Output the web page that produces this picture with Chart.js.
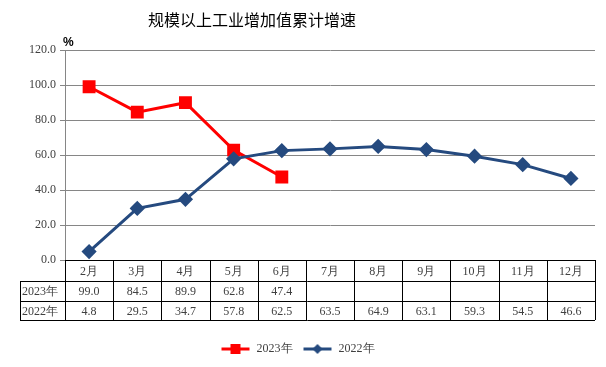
<!DOCTYPE html>
<html>
<head>
<meta charset="utf-8">
<script src="https://cdn.jsdelivr.net/npm/chart.js@4.4.1/dist/chart.umd.min.js"></script>
<style>
  html, body { margin: 0; padding: 0; background: #fff; }
  #wrap { width: 606px; height: 367px; }
</style>
</head>
<body>
<div id="wrap"><canvas id="growthChart"></canvas></div>
<script>
// Data
const months = ["2月", "3月", "4月", "5月", "6月", "7月", "8月", "9月", "10月", "11月", "12月"];
const series2023 = [99.0, 84.5, 89.9, 62.8, 47.4, null, null, null, null, null, null];
const series2022 = [4.8, 29.5, 34.7, 57.8, 62.5, 63.5, 64.9, 63.1, 59.3, 54.5, 46.6];
const seriesNames = ["2023年", "2022年"];
const yTicks = [0, 20, 40, 60, 80, 100, 120];
const chartTitle = "规模以上工业增加值累计增速";

const RED = "#ff0000";
const BLUE = "#254a7f";
const SERIF = "'Liberation Serif', 'DejaVu Serif', serif";
const CJK = "'Noto Sans CJK SC', sans-serif";

// legend swatch: line with marker in the middle
function swatch(color, shape) {
  const c = document.createElement("canvas");
  c.width = 30;
  c.height = 12;
  const g = c.getContext("2d");
  g.strokeStyle = color;
  g.lineWidth = 3;
  g.beginPath();
  g.moveTo(1, 6);
  g.lineTo(29, 6);
  g.stroke();
  g.fillStyle = color;
  if (shape === "rect") {
    g.fillRect(10, 1, 10, 10);
  } else {
    g.beginPath();
    g.moveTo(15, 1);
    g.lineTo(20, 6);
    g.lineTo(15, 11);
    g.lineTo(10, 6);
    g.closePath();
    g.fill();
  }
  return c;
}

const tablePlugin = {
  id: "dataTable",
  afterDraw(chart) {
    const ctx = chart.ctx;
    const area = chart.chartArea;
    const x = chart.scales.x;
    const colW = (area.right - area.left) / months.length;
    const top = area.bottom;
    const rows = [top, top + 21, top + 41, top + 60];
    const tableLeft = 20;

    ctx.save();
    // title (sits left of centre in the original)
    ctx.fillStyle = "#000";
    ctx.font = "16px " + CJK;
    ctx.textAlign = "center";
    ctx.textBaseline = "middle";
    ctx.fillText(chartTitle, 252, 20);

    ctx.strokeStyle = "#000";
    ctx.lineWidth = 1;
    ctx.beginPath();
    // horizontal lines
    ctx.moveTo(area.left, rows[0] + 0.5);
    ctx.lineTo(area.right, rows[0] + 0.5);
    for (let r = 1; r < rows.length; r++) {
      ctx.moveTo(tableLeft, rows[r] + 0.5);
      ctx.lineTo(area.right, rows[r] + 0.5);
    }
    // vertical lines
    ctx.moveTo(tableLeft + 0.5, rows[1]);
    ctx.lineTo(tableLeft + 0.5, rows[3]);
    for (let i = 0; i <= months.length; i++) {
      const px = Math.round(area.left + i * colW) + 0.5;
      ctx.moveTo(px, rows[0]);
      ctx.lineTo(px, rows[3]);
    }
    ctx.stroke();

    ctx.fillStyle = "#404040";
    ctx.textAlign = "center";
    ctx.font = "12px " + SERIF;
    months.forEach((m, i) => {
      const cx = x.getPixelForValue(i);
      ctx.fillText(m, cx, (rows[0] + rows[1]) / 2 + 1);
      if (series2023[i] !== null) {
        ctx.fillText(series2023[i].toFixed(1), cx, (rows[1] + rows[2]) / 2 + 1);
      }
      ctx.fillText(series2022[i].toFixed(1), cx, (rows[2] + rows[3]) / 2 + 1);
    });
    ctx.textAlign = "left";
    ctx.fillText(seriesNames[0], tableLeft + 2, (rows[1] + rows[2]) / 2 + 1);
    ctx.fillText(seriesNames[1], tableLeft + 2, (rows[2] + rows[3]) / 2 + 1);

    // unit label
    ctx.fillStyle = "#000";
    ctx.font = "bold 12px 'Liberation Sans', sans-serif";
    ctx.textBaseline = "bottom";
    ctx.fillText("%", area.left - 2, area.top - 1);
    ctx.restore();
  }
};

const ctx = document.getElementById("growthChart");
const growthChart = new Chart(ctx, {
  type: "line",
  data: {
    labels: months,
    datasets: [
      {
        label: seriesNames[0],
        data: series2023,
        order: 2,
        borderColor: RED,
        backgroundColor: RED,
        borderWidth: 3,
        pointStyle: "rect",
        pointRadius: 7,
        pointHoverRadius: 7,
        tension: 0,
        spanGaps: false,
      },
      {
        label: seriesNames[1],
        data: series2022,
        order: 1,
        borderColor: BLUE,
        backgroundColor: BLUE,
        borderWidth: 3,
        pointStyle: "rectRot",
        pointRadius: 5.5,
        pointHoverRadius: 5.5,
        tension: 0,
      },
    ],
  },
  options: {
    responsive: true,
    maintainAspectRatio: false,
    animation: false,
    layout: { padding: { left: 0, right: 11, top: 50, bottom: 2 } },
    plugins: {
      title: { display: false },
      legend: {
        position: "bottom",
        labels: {
          color: "#404040",
          font: { family: SERIF, size: 12 },
          usePointStyle: true,
          pointStyleWidth: 30,
          padding: 10,
          sort: (a, b) => a.datasetIndex - b.datasetIndex,
          generateLabels(chart) {
            return chart.data.datasets.map((ds, i) => ({
              text: ds.label,
              fontColor: "#404040",
              pointStyle: swatch(ds.borderColor, i === 0 ? "rect" : "diamond"),
              datasetIndex: i,
              hidden: false,
              lineWidth: 0,
            }));
          },
        },
      },
      tooltip: { enabled: false },
    },
    scales: {
      x: {
        offset: true,
        ticks: { display: false },
        grid: { display: false },
        border: { display: false },
        afterFit(scale) { scale.height = 73; },
      },
      y: {
        min: 0,
        max: 120,
        afterBuildTicks(scale) { scale.ticks = yTicks.map(v => ({ value: v })); },
        ticks: {
          color: "#404040",
          font: { family: SERIF, size: 12 },
          padding: 4,
          callback: v => Number(v).toFixed(1),
        },
        grid: { color: "#868686", lineWidth: 1, tickLength: 5 },
        border: { color: "#868686" },
        afterFit(scale) { scale.width = 65; },
      },
    },
  },
  plugins: [tablePlugin],
});
</script>
</body>
</html>
